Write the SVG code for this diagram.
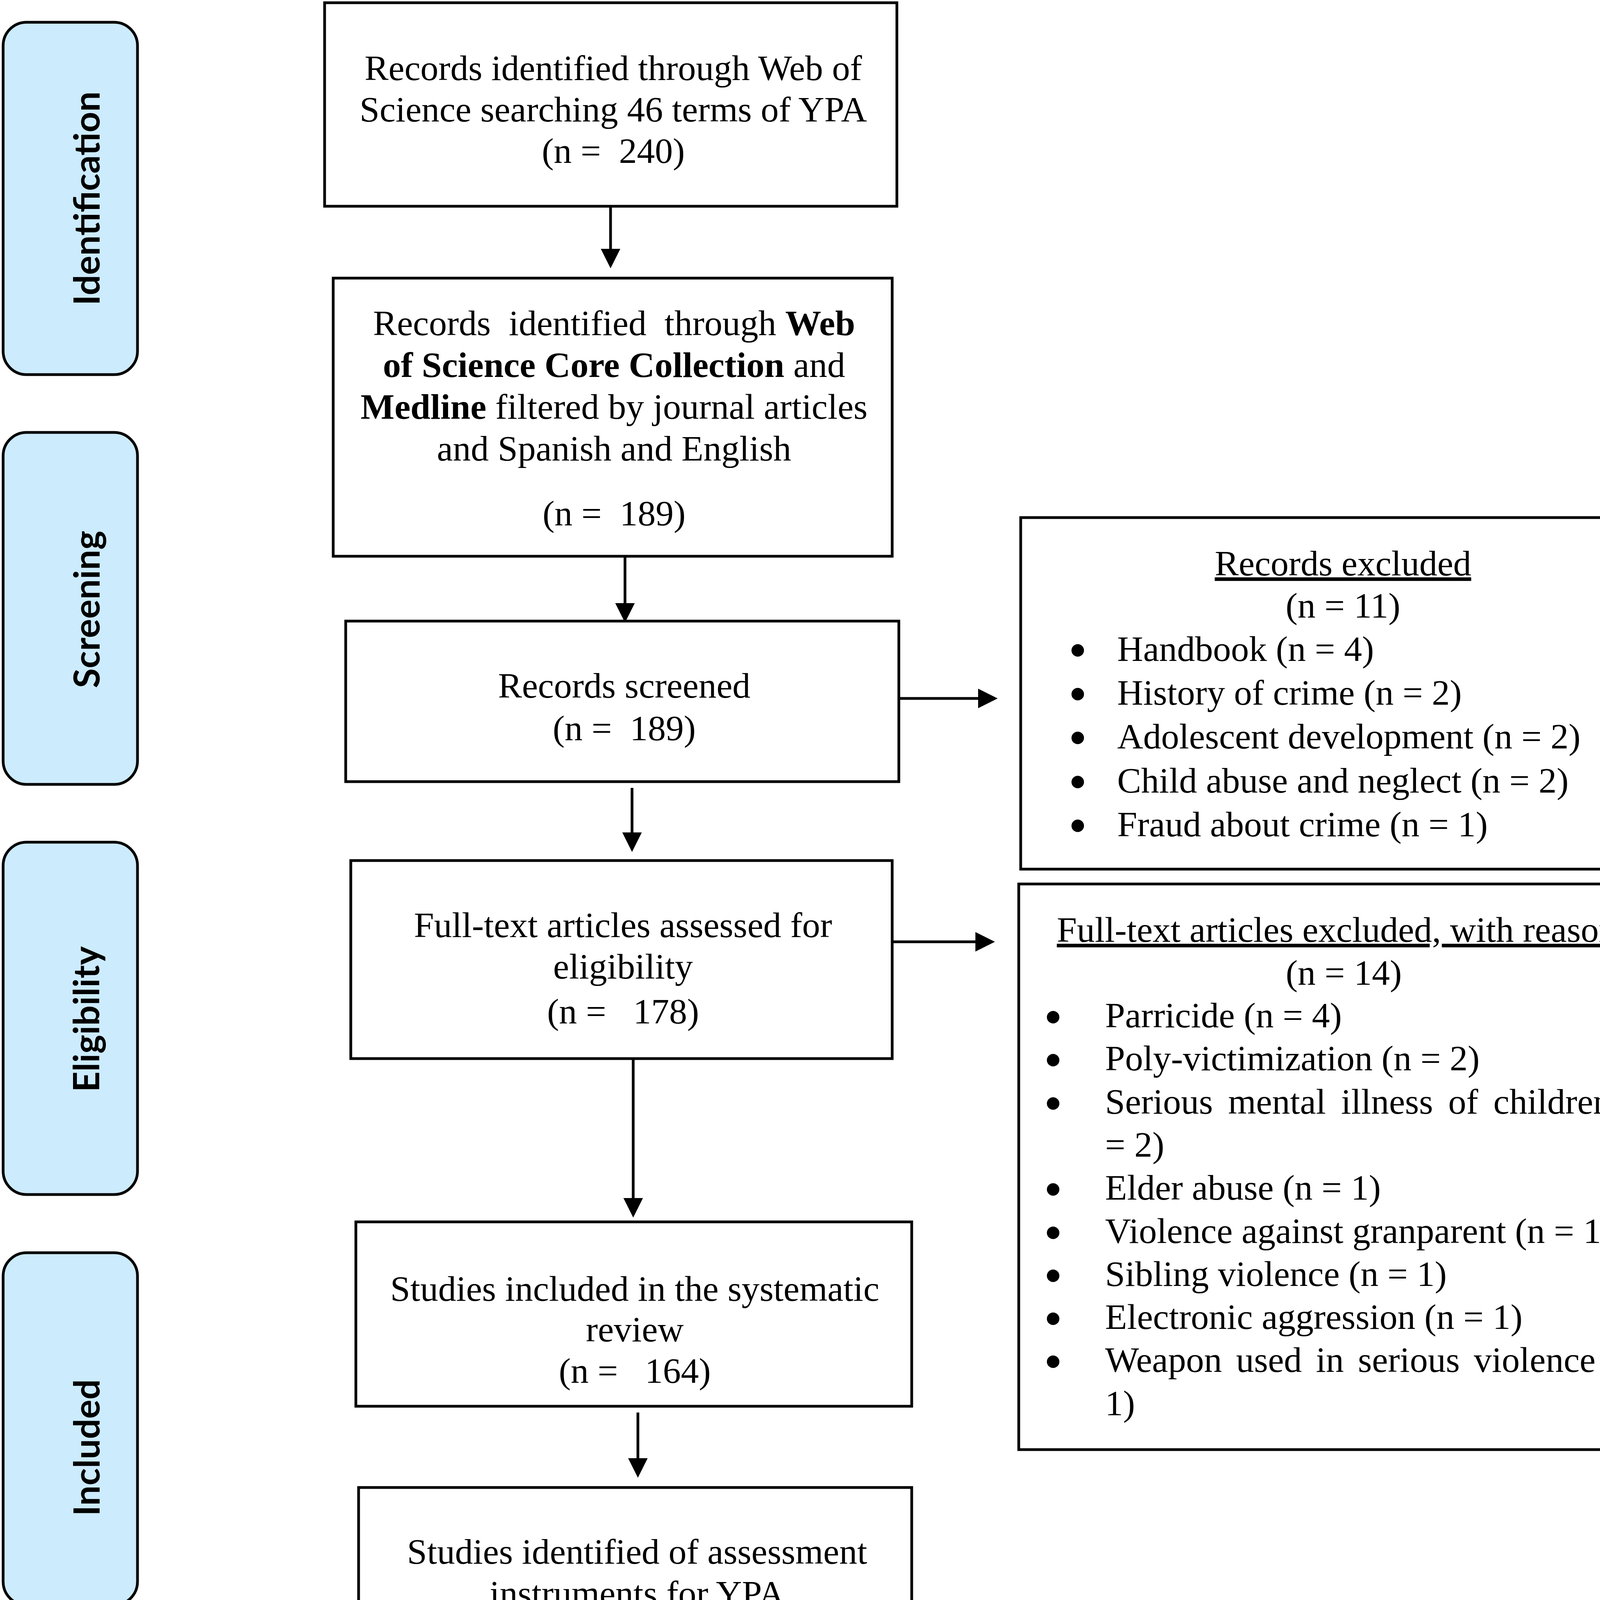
<svg xmlns="http://www.w3.org/2000/svg" width="4279" height="4320" viewBox="0 0 4279 4320">
<defs>
<style>
.stage rect{fill:#CCEBFD;stroke:#000;stroke-width:7}
.stage text{font-family:Lato,"Open Sans","DejaVu Sans",sans-serif;font-weight:bold;font-size:92px;fill:#000;text-anchor:middle}
.box{fill:#fff;stroke:#000;stroke-width:7}
.t{font-family:"Liberation Serif","Times New Roman",serif;font-size:92px;fill:#000}
.c{text-anchor:middle}
.b{font-weight:bold}
.u{text-decoration:underline}
.bul{fill:#000}
.conn line{stroke:#000;stroke-width:7}
</style>
<marker id="ah" markerUnits="userSpaceOnUse" viewBox="0 0 50 50" refX="2" refY="25" markerWidth="50" markerHeight="50" orient="auto"><path d="M0,0 L50,25 L0,50 z" fill="#000"/></marker>
</defs>
<rect x="0" y="0" width="4279" height="4320" fill="#fff"/>

<g id="stage-identification" class="stage"><rect x="8" y="57" width="344" height="902" rx="60"/><text transform="translate(255,508) rotate(-90)" textLength="548" lengthAdjust="spacingAndGlyphs">Identification</text></g>
<g id="stage-screening" class="stage"><rect x="8" y="1107" width="344" height="901" rx="60"/><text transform="translate(255,1560) rotate(-90)" textLength="403" lengthAdjust="spacingAndGlyphs">Screening</text></g>
<g id="stage-eligibility" class="stage"><rect x="8" y="2156" width="344" height="902" rx="60"/><text transform="translate(254,2609) rotate(-90)" textLength="373" lengthAdjust="spacingAndGlyphs">Eligibility</text></g>
<g id="stage-included" class="stage"><rect x="8" y="3207" width="344" height="902" rx="60"/><text transform="translate(255,3706) rotate(-90)" textLength="350" lengthAdjust="spacingAndGlyphs">Included</text></g>

<g id="conn" class="conn">
<line x1="1563" y1="521" x2="1563" y2="639" marker-end="url(#ah)"/>
<line x1="1600" y1="1424" x2="1600" y2="1546" marker-end="url(#ah)"/>
<line x1="1618" y1="2017" x2="1618" y2="2133" marker-end="url(#ah)"/>
<line x1="1621" y1="2710" x2="1621" y2="3069" marker-end="url(#ah)"/>
<line x1="1633" y1="3616" x2="1633" y2="3735" marker-end="url(#ah)"/>
<line x1="2301" y1="1788" x2="2506" y2="1788" marker-end="url(#ah)"/>
<line x1="2284" y1="2411" x2="2499" y2="2411" marker-end="url(#ah)"/>
</g>

<g id="box-wos">
<rect class="box" x="831" y="7" width="1465" height="521"/>
<text class="t c" x="1570" y="205">Records identified through Web of</text>
<text class="t c" x="1570" y="311">Science searching 46 terms of YPA</text>
<text class="t c" x="1570" y="417" xml:space="preserve">(n =  240)</text>
</g>

<g id="box-core">
<rect class="box" x="853" y="712" width="1431" height="712"/>
<text class="t c" x="1572" y="858" xml:space="preserve">Records  identified  through <tspan class="b">Web</tspan></text>
<text class="t c" x="1572" y="965"><tspan class="b">of Science Core Collection</tspan> and</text>
<text class="t c" x="1572" y="1072"><tspan class="b">Medline</tspan> filtered by journal articles</text>
<text class="t c" x="1572" y="1179">and Spanish and English</text>
<text class="t c" x="1572" y="1345" xml:space="preserve">(n =  189)</text>
</g>

<g id="box-screened">
<rect class="box" x="885" y="1590" width="1416" height="411"/>
<text class="t c" x="1598" y="1786">Records screened</text>
<text class="t c" x="1598" y="1895" xml:space="preserve">(n =  189)</text>
</g>

<g id="box-fulltext">
<rect class="box" x="898" y="2203" width="1386" height="507"/>
<text class="t c" x="1595" y="2399">Full-text articles assessed for</text>
<text class="t c" x="1595" y="2505">eligibility</text>
<text class="t c" x="1595" y="2620" xml:space="preserve">(n =   178)</text>
</g>

<g id="box-included">
<rect class="box" x="911" y="3128" width="1423" height="472"/>
<text class="t c" x="1625" y="3330">Studies included in the systematic</text>
<text class="t c" x="1625" y="3434">review</text>
<text class="t c" x="1625" y="3540" xml:space="preserve">(n =   164)</text>
</g>

<g id="box-instruments">
<rect class="box" x="918" y="3808" width="1416" height="504"/>
<text class="t c" x="1631" y="4003">Studies identified of assessment</text>
<text class="t c" x="1631" y="4110">instruments for YPA</text>
<text class="t c" x="1631" y="4218" xml:space="preserve">(n =  20)</text>
</g>

<g id="box-records-excluded">
<rect class="box" x="2613" y="1325" width="1642" height="900"/>
<text class="t c u" x="3438" y="1473">Records excluded</text>
<text class="t c" x="3438" y="1581">(n = 11)</text>
<circle class="bul" cx="2759" cy="1665" r="16"/><text class="t" x="2860" y="1692">Handbook (n = 4)</text>
<circle class="bul" cx="2759" cy="1777" r="16"/><text class="t" x="2860" y="1804">History of crime (n = 2)</text>
<circle class="bul" cx="2759" cy="1889" r="16"/><text class="t" x="2860" y="1916">Adolescent development (n = 2)</text>
<circle class="bul" cx="2759" cy="2002" r="16"/><text class="t" x="2860" y="2029">Child abuse and neglect (n = 2)</text>
<circle class="bul" cx="2759" cy="2114" r="16"/><text class="t" x="2860" y="2141">Fraud about crime (n = 1)</text>
</g>

<g id="box-fulltext-excluded">
<rect class="box" x="2608" y="2263" width="1662" height="1448"/>
<text class="t c u" x="3440" y="2411">Full-text articles excluded, with reasons</text>
<text class="t c" x="3440" y="2521">(n = 14)</text>
<circle class="bul" cx="2696" cy="2604" r="16"/><text class="t" x="2829" y="2630">Parricide (n = 4)</text>
<circle class="bul" cx="2696" cy="2714" r="16"/><text class="t" x="2829" y="2740">Poly-victimization (n = 2)</text>
<circle class="bul" cx="2696" cy="2825" r="16"/><text class="t" x="2829" y="2851" word-spacing="16">Serious mental illness of children (n</text>
<text class="t" x="2829" y="2961">= 2)</text>
<circle class="bul" cx="2696" cy="3045" r="16"/><text class="t" x="2829" y="3071">Elder abuse (n = 1)</text>
<circle class="bul" cx="2696" cy="3156" r="16"/><text class="t" x="2829" y="3182">Violence against granparent (n = 1)</text>
<circle class="bul" cx="2696" cy="3266" r="16"/><text class="t" x="2829" y="3292">Sibling violence (n = 1)</text>
<circle class="bul" cx="2696" cy="3376" r="16"/><text class="t" x="2829" y="3402">Electronic aggression (n = 1)</text>
<circle class="bul" cx="2696" cy="3486" r="16"/><text class="t" x="2829" y="3512" word-spacing="13">Weapon used in serious violence (n =</text>
<text class="t" x="2829" y="3623">1)</text>
</g>
</svg>
